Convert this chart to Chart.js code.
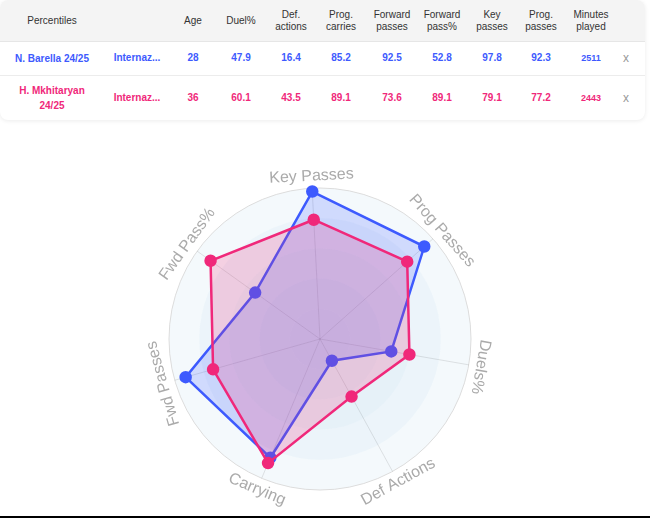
<!DOCTYPE html>
<html>
<head>
<meta charset="utf-8">
<script src="https://cdn.jsdelivr.net/npm/chart.js@4.4.1/dist/chart.umd.min.js"></script>
<style>
  body { margin: 0; background: #fff; font-family: "Liberation Sans", Arial, sans-serif; }
  #card {
    position: absolute; left: 0; top: 0; width: 645px; height: 120px;
    background: #fff; border-radius: 8px; overflow: hidden;
    box-shadow: 0 1px 4px rgba(0,0,0,0.08);
  }
  #head { position: absolute; left: 0; top: 0; width: 100%; height: 41px; background: #f4f4f4; border-bottom: 1px solid #e6e6e6; }
  .sep { position: absolute; left: 0; width: 100%; height: 1px; background: #ececec; }
  .cell {
    position: absolute; transform: translate(-50%, -50%);
    text-align: center; font-size: 10px; line-height: 12px; white-space: nowrap;
  }
  .hd { color: #333; }
  .val { font-weight: bold; font-size: 10px; }
  .mins { font-size: 9px; }
  .x { color: #999; font-size: 12px; }
  #wrap { position: absolute; left: 130px; top: 150px; width: 380px; height: 362px; }
  #bottomLine { position: absolute; left: 0; top: 516px; width: 650px; height: 2px; background: #000; }
</style>
</head>
<body>
<div id="card"><div id="head"></div><div class="sep" style="top:75px"></div></div>
<div id="wrap"><canvas id="radar"></canvas></div>
<div id="bottomLine"></div>
<script>
// table data
const players = ['N. Barella 24/25', 'H. Mkhitaryan 24/25'];
const teams = ['Internaz...', 'Internaz...'];
const ages = [28, 36];
const duelPct = [47.9, 60.1];
const defActions = [16.4, 43.5];
const progCarries = [85.2, 89.1];
const fwdPasses = [92.5, 73.6];
const fwdPassPct = [52.8, 89.1];
const keyPasses = [97.8, 79.1];
const progPasses = [92.3, 77.2];
const minutes = [2511, 2443];
const headers = ['Percentiles', '', 'Age', 'Duel%', 'Def.<br>actions', 'Prog.<br>carries',
  'Forward<br>passes', 'Forward<br>pass%', 'Key<br>passes', 'Prog.<br>passes', 'Minutes<br>played', ''];

// radar data
const radarLabels = ['Key Passes', 'Prog Passes', 'Duels%', 'Def Actions', 'Carrying', 'Fwd Passes', 'Fwd Pass%'];
const barellaValues = [97.8, 92.3, 47.9, 16.4, 85.2, 92.5, 52.8];
const mkhitaryanValues = [79.1, 77.2, 60.1, 43.5, 89.1, 73.6, 89.1];

const blue = '#3d5afe';
const pink = '#f0287a';

// build table
const card = document.getElementById('card');
const colX = [52, 137, 193, 241, 291, 341, 392, 442, 492, 541, 591, 626];
const rowY = [21, 58, 98];
function addCell(html, x, y, cls, color) {
  const d = document.createElement('div');
  d.className = 'cell ' + cls;
  d.innerHTML = html;
  d.style.left = x + 'px';
  d.style.top = y + 'px';
  if (color) d.style.color = color;
  card.appendChild(d);
  return d;
}
headers.forEach((h, i) => { if (h) addCell(h, colX[i], rowY[0], 'hd'); });
players.forEach((p, r) => {
  const c = r === 0 ? blue : pink;
  const y = rowY[r + 1];
  const nm = addCell(p, colX[0], y, 'val', c);
  nm.style.whiteSpace = 'normal';
  nm.style.width = '84px';
  nm.style.lineHeight = '15px';
  const row = [teams[r], ages[r], duelPct[r], defActions[r], progCarries[r], fwdPasses[r],
    fwdPassPct[r], keyPasses[r], progPasses[r]];
  row.forEach((v, i) => addCell(typeof v === 'number' && i > 1 ? v.toFixed(1) : v, colX[i + 1], y, 'val', c));
  addCell(minutes[r], colX[10], y, 'val mins', c);
  addCell('x', colX[11], y, 'x');
});

// concentric shaded rings behind the grid
const ringPlugin = {
  id: 'rings',
  beforeDraw(chart) {
    const scale = chart.scales.r;
    const ctx = chart.ctx;
    ctx.save();
    [100, 80, 60, 40, 20].forEach(v => {
      ctx.beginPath();
      ctx.arc(scale.xCenter, scale.yCenter, scale.getDistanceFromCenterForValue(v), 0, Math.PI * 2);
      ctx.fillStyle = 'rgba(215,232,244,0.28)';
      ctx.fill();
    });
    ctx.restore();
  }
};

// labels rotated along the circle
const labelPlugin = {
  id: 'tangentLabels',
  afterDraw(chart) {
    const scale = chart.scales.r;
    const ctx = chart.ctx;
    ctx.save();
    ctx.font = '16px "Liberation Sans", Arial, sans-serif';
    ctx.fillStyle = '#aaa';
    ctx.textAlign = 'center';
    ctx.textBaseline = 'middle';
    chart.data.labels.forEach((label, i) => {
      const pos = scale.getPointPosition(i, scale.drawingArea + 12);
      let rot = scale.getIndexAngle(i);
      const deg = rot * 180 / Math.PI;
      if (deg > 110 && deg < 250) rot += Math.PI;
      ctx.save();
      ctx.translate(pos.x, pos.y);
      ctx.rotate(rot);
      ctx.fillText(label, 0, 0);
      ctx.restore();
    });
    ctx.restore();
  }
};

new Chart(document.getElementById('radar'), {
  type: 'radar',
  data: {
    labels: radarLabels,
    datasets: [{
      label: players[0],
      data: barellaValues,
      borderColor: blue,
      backgroundColor: 'rgba(61,90,254,0.2)',
      pointBackgroundColor: blue,
      pointBorderColor: blue,
      borderWidth: 2.5,
      pointRadius: 5,
      fill: true,
      order: 1
    }, {
      label: players[1],
      data: mkhitaryanValues,
      borderColor: pink,
      backgroundColor: 'rgba(240,40,122,0.2)',
      pointBackgroundColor: pink,
      pointBorderColor: pink,
      borderWidth: 2.5,
      pointRadius: 5,
      fill: true,
      order: 0
    }]
  },
  options: {
    responsive: true,
    maintainAspectRatio: false,
    animation: false,
    layout: { padding: { left: 39, right: 39, top: 38, bottom: 22 } },
    plugins: { legend: { display: false }, tooltip: { enabled: false } },
    scales: {
      r: {
        min: 0,
        max: 100,
        startAngle: -3,
        ticks: { display: false, stepSize: 20 },
        pointLabels: { display: false },
        angleLines: { color: 'rgba(0,0,0,0.1)' },
        grid: {
          circular: true,
          color: c => c.tick && c.tick.value === 100 ? '#dcdcdc' : 'transparent'
        }
      }
    }
  },
  plugins: [ringPlugin, labelPlugin]
});
</script>
</body>
</html>
